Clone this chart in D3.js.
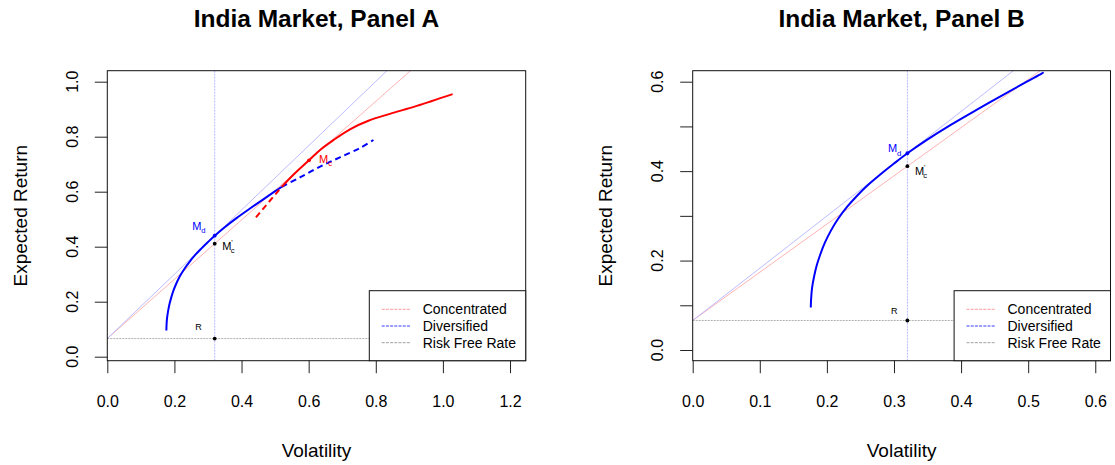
<!DOCTYPE html>
<html><head><meta charset="utf-8">
<script src="https://cdn.jsdelivr.net/npm/d3@7"></script>
<style>
body{margin:0;background:#fff;}
svg{display:block;font-family:"Liberation Sans",Arial,Helvetica,sans-serif;}
</style></head><body>
<svg id="chart" width="1115" height="465"></svg>
<script>
// ---------------- data ----------------
const riskFree = 0.066;
const mdSigma = 0.32, mdMu = 0.44;       // diversified market portfolio
const mcSigma = 0.601, mcMu = 0.714;     // concentrated market portfolio
const mcPrimeMu = 0.411;                 // concentrated CML at the sigma of M_d

// Diversified frontier, efficient part (drawn solid in both panels)
const divSigma = [0.176, 0.1765, 0.178, 0.181, 0.185, 0.190, 0.197, 0.206, 0.217, 0.230, 0.245, 0.262, 0.280, 0.300, 0.320, 0.349, 0.384, 0.423, 0.468, 0.498, 0.520];
const divMu    = [0.095, 0.115, 0.140, 0.165, 0.190, 0.213, 0.240, 0.267, 0.294, 0.320, 0.345, 0.370, 0.393, 0.417, 0.440, 0.470, 0.503, 0.537, 0.575, 0.600, 0.618];

// Diversified frontier beyond the crossing (dashed, Panel A)
const divDashSigma = [0.520, 0.574, 0.634, 0.693, 0.753, 0.793];
const divDashMu    = [0.618, 0.652, 0.691, 0.725, 0.759, 0.788];

// Concentrated frontier (Panel A)
const concDashSigma  = [0.443, 0.520];
const concDashMu     = [0.507, 0.618];
const concSolidSigma = [0.520, 0.559, 0.601, 0.634, 0.674, 0.723, 0.778, 0.842, 0.922, 1.029];
const concSolidMu    = [0.618, 0.667, 0.714, 0.752, 0.788, 0.827, 0.858, 0.883, 0.912, 0.955];

// Panel B extends the diversified frontier a little further
const divExtraSigmaB = [0.523];
const divExtraMuB    = [0.621];

const xTicksA = [0.0, 0.2, 0.4, 0.6, 0.8, 1.0, 1.2];
const yTicksA = [0.0, 0.2, 0.4, 0.6, 0.8, 1.0];
const xTicksB = [0.0, 0.1, 0.2, 0.3, 0.4, 0.5, 0.6];
const yTicksB = [0.0, 0.1, 0.2, 0.3, 0.4, 0.5, 0.6];
const yLabelsB = [0.0, 0.2, 0.4, 0.6];

const legendLabels = ["Concentrated", "Diversified", "Risk Free Rate"];
const titles = ["India Market, Panel A", "India Market, Panel B"];
const xTitle = "Volatility";
const yTitle = "Expected Return";

// ---------------- drawing ----------------
const svg = d3.select("#chart");
const fmt = d3.format(".1f");
const zip = (a, b) => a.map((v, i) => [v, b[i]]);

const panels = [
  {
    id: "A", title: titles[0], left: 107.3, right: 525.7, top: 70.7, bottom: 360.7,
    xDomain: [0, 1.2467], yDomain: [-0.01455, 1.04],
    xTicks: xTicksA, yTicks: yTicksA, yLabels: yTicksA,
    yLabelX: 78, yTitleX: 27,
    curves: [
      { pts: zip(divSigma, divMu), color: "#0000ff", dash: null },
      { pts: zip(divDashSigma, divDashMu), color: "#0000ff", dash: "6,4" },
      { pts: zip(concDashSigma, concDashMu), color: "#ff0000", dash: "6,4" },
      { pts: zip(concSolidSigma, concSolidMu), color: "#ff0000", dash: null }
    ],
    showMc: true,
    mdLab: [-22.5, -5.5], mcpLab: [7.5, 6.0], rLab: [-19.5, -8.2]
  },
  {
    id: "B", title: titles[1], left: 692.7, right: 1110.5, top: 70.7, bottom: 360.7,
    xDomain: [0, 0.6227], yDomain: [-0.0239, 0.6246],
    xTicks: xTicksB, yTicks: yTicksB, yLabels: yLabelsB,
    yLabelX: 663, yTitleX: 612,
    curves: [
      { pts: zip(divSigma.concat(divExtraSigmaB), divMu.concat(divExtraMuB)), color: "#0000ff", dash: null }
    ],
    showMc: false,
    mdLab: [-19.5, -0.8], mcpLab: [7.5, 8.3], rLab: [-16.3, -6.0]
  }
];

function subLabel(g, x, y, main, sub, sup, color, size) {
  const t = g.append("text").attr("x", x).attr("y", y)
    .attr("fill", color).attr("font-size", size);
  t.append("tspan").text(main);
  if (sup) {
    t.append("tspan").text(sup).attr("font-size", size * 0.7).attr("dy", -size * 0.45);
    t.append("tspan").text(sub).attr("font-size", size * 0.7)
      .attr("dx", -size * 0.2).attr("dy", size * 0.75);
  } else if (sub) {
    t.append("tspan").text(sub).attr("font-size", size * 0.7).attr("dy", size * 0.3);
  }
}

panels.forEach(p => {
  const x = d3.scaleLinear().domain(p.xDomain).range([p.left, p.right]);
  const y = d3.scaleLinear().domain(p.yDomain).range([p.bottom, p.top]);
  const g = svg.append("g");

  const clipId = "clip" + p.id;
  svg.append("clipPath").attr("id", clipId).append("rect")
    .attr("x", p.left).attr("y", p.top)
    .attr("width", p.right - p.left).attr("height", p.bottom - p.top);
  const plot = g.append("g").attr("clip-path", `url(#${clipId})`);

  // capital market lines from the risk-free rate
  const slopeD = (mdMu - riskFree) / mdSigma;
  const slopeC = (mcMu - riskFree) / mcSigma;
  const xEnd = p.xDomain[1];
  [[slopeC, "#ffaaaa"], [slopeD, "#b4b4ff"]].forEach(([s, c]) => {
    plot.append("line")
      .attr("x1", x(0)).attr("y1", y(riskFree))
      .attr("x2", x(xEnd)).attr("y2", y(riskFree + s * xEnd))
      .attr("stroke", c).attr("stroke-width", 0.9);
  });

  // risk-free level and the sigma of M_d
  plot.append("line")
    .attr("x1", x(0)).attr("x2", x(xEnd))
    .attr("y1", y(riskFree)).attr("y2", y(riskFree))
    .attr("stroke", "#a8a8a8").attr("stroke-width", 0.9).attr("stroke-dasharray", "2,1");
  plot.append("line")
    .attr("x1", x(mdSigma)).attr("x2", x(mdSigma))
    .attr("y1", y(p.yDomain[0])).attr("y2", y(p.yDomain[1]))
    .attr("stroke", "#b0b0ff").attr("stroke-width", 0.9).attr("stroke-dasharray", "2,1");

  // frontiers
  const curveLine = d3.line().x(d => x(d[0])).y(d => y(d[1])).curve(d3.curveCatmullRom.alpha(0.5));
  p.curves.forEach(c => {
    const path = plot.append("path").datum(c.pts)
      .attr("d", curveLine)
      .attr("fill", "none").attr("stroke", c.color).attr("stroke-width", 2);
    if (c.dash) path.attr("stroke-dasharray", c.dash);
  });

  // points
  const dot = (sx, sy, col) => g.append("circle")
    .attr("cx", x(sx)).attr("cy", y(sy)).attr("r", 1.9).attr("fill", col);
  dot(mdSigma, mdMu, "#0000ff");
  dot(mdSigma, mcPrimeMu, "#000");
  dot(mdSigma, riskFree, "#000");
  if (p.showMc) dot(mcSigma, mcMu, "#ff0000");

  // point labels
  subLabel(g, x(mdSigma) + p.mdLab[0], y(mdMu) + p.mdLab[1], "M", "d", null, "#0000ff", 11);
  subLabel(g, x(mdSigma) + p.mcpLab[0], y(mcPrimeMu) + p.mcpLab[1], "M", "c", "'", "#000", 11);
  g.append("text").attr("x", x(mdSigma) + p.rLab[0]).attr("y", y(riskFree) + p.rLab[1])
    .attr("font-size", 9).attr("fill", "#000").text("R");
  if (p.showMc) subLabel(g, x(mcSigma) + 10, y(mcMu) + 2.5, "M", "c", null, "#ff0000", 11);

  // axes
  const xAxis = g.append("g").attr("transform", `translate(0,${p.bottom})`)
    .call(d3.axisBottom(x).tickValues(p.xTicks).tickSize(12.5).tickFormat(fmt));
  xAxis.select(".domain").remove();
  xAxis.selectAll(".tick line").attr("stroke", "#222");
  xAxis.selectAll(".tick text").attr("y", 46).attr("dy", null)
    .attr("font-size", 16).attr("font-family", "Liberation Sans, Arial, sans-serif").attr("fill", "#000");

  const yAxis = g.append("g").attr("transform", `translate(${p.left},0)`)
    .call(d3.axisLeft(y).tickValues(p.yTicks).tickSize(12.5).tickFormat(() => ""));
  yAxis.select(".domain").remove();
  yAxis.selectAll(".tick line").attr("stroke", "#222");
  p.yLabels.forEach(v => {
    g.append("text")
      .attr("transform", `translate(${p.yLabelX},${y(v)}) rotate(-90)`)
      .attr("text-anchor", "middle").attr("font-size", 16).attr("fill", "#000")
      .text(fmt(v));
  });

  // plot frame
  g.append("rect").attr("x", p.left).attr("y", p.top)
    .attr("width", p.right - p.left).attr("height", p.bottom - p.top)
    .attr("fill", "none").attr("stroke", "#111").attr("stroke-width", 1);

  // legend
  const lg = g.append("g");
  const lL = p.right - 156.4, lT = p.bottom - 70;
  lg.append("rect").attr("x", lL).attr("y", lT).attr("width", p.right - lL).attr("height", p.bottom - lT)
    .attr("fill", "#fff").attr("stroke", "#111").attr("stroke-width", 1);
  const legCols = ["#ff9a9a", "#3a3aff", "#a0a0a0"];
  legendLabels.forEach((lab, i) => {
    const ry = lT + 18.6 + i * 16.7;
    lg.append("line").attr("x1", lL + 12.4).attr("x2", lL + 40.7).attr("y1", ry).attr("y2", ry)
      .attr("stroke", legCols[i]).attr("stroke-width", 1).attr("stroke-dasharray", "3,1.2");
    lg.append("text").attr("x", lL + 53.4).attr("y", ry).attr("dy", "0.36em")
      .attr("font-size", 14).attr("fill", "#000").text(lab);
  });

  // titles
  const cx = (p.left + p.right) / 2;
  g.append("text").attr("x", cx).attr("y", 27).attr("text-anchor", "middle")
    .attr("font-size", 24.5).attr("font-weight", "bold").text(p.title);
  g.append("text").attr("x", cx).attr("y", 457).attr("text-anchor", "middle")
    .attr("font-size", 19).text(xTitle);
  g.append("text").attr("transform", `translate(${p.yTitleX},${(p.top + p.bottom) / 2}) rotate(-90)`)
    .attr("text-anchor", "middle").attr("font-size", 19).text(yTitle);
});
</script>
</body></html>
